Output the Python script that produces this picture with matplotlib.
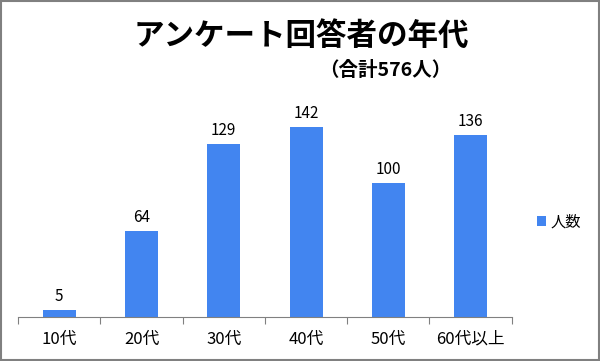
import matplotlib
matplotlib.use('Agg')
import matplotlib.pyplot as plt
from matplotlib.patches import Rectangle

plt.rcParams['font.family'] = ['Noto Sans CJK JP', 'DejaVu Sans']

# データ
categories = ['10代', '20代', '30代', '40代', '50代', '60代以上']
counts = [5, 64, 129, 142, 100, 136]
series_name = '人数'
bar_color = '#4285F0'

fig = plt.figure(figsize=(6, 3.61), dpi=100)
ax = fig.add_axes([0.03, 0.122, 0.823, 0.593])

x = range(len(categories))
bars = ax.bar(x, counts, width=0.4, color=bar_color, label=series_name)
for b, v in zip(bars, counts):
    ax.text(b.get_x() + b.get_width() / 2, v + 4, str(v),
            ha='center', va='bottom', fontsize=11)

ax.set_xlim(-0.5, len(categories) - 0.5)
ax.set_ylim(0, 160)
ax.set_yticks([])
ax.set_xticks([i - 0.5 for i in range(len(categories) + 1)], minor=False)
ax.set_xticklabels([])
ax.set_xticks(list(x), minor=True)
ax.set_xticklabels(categories, minor=True, fontsize=12)
ax.tick_params(axis='x', which='major', length=5, color='#808080')
ax.tick_params(axis='x', which='minor', length=0, pad=10)
for s in ['top', 'right', 'left']:
    ax.spines[s].set_visible(False)
ax.spines['bottom'].set_color('#808080')

fig.text(0.502, 0.9, 'アンケート回答者の年代', ha='center', va='center',
         fontsize=22, fontweight='bold')
fig.text(0.642, 0.806, '（合計576人）', ha='center', va='center',
         fontsize=14, fontweight='bold')

fig.legend(loc='center left', bbox_to_anchor=(0.885, 0.385), frameon=False,
           fontsize=11, handlelength=0.6, handleheight=0.6, handletextpad=0.3,
           borderaxespad=0)

fig.patches.append(Rectangle((0.002, 0.003), 0.996, 0.994, transform=fig.transFigure,
                             fill=False, edgecolor='#808080', linewidth=1.5))

fig.savefig('out.png', dpi=100)
